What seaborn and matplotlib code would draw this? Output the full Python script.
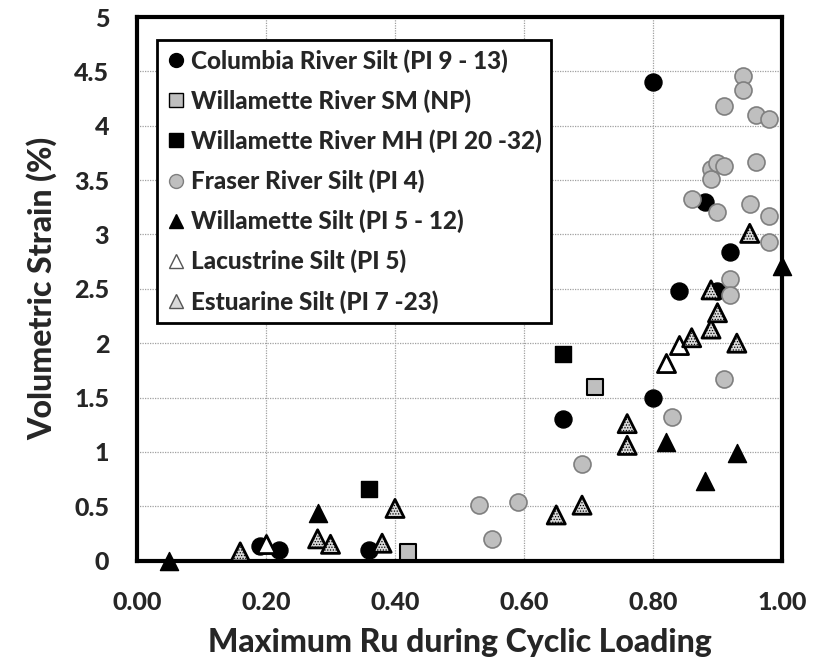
import matplotlib
matplotlib.use("Agg")
import matplotlib.pyplot as plt
import seaborn as sns
import pandas as pd
from matplotlib.lines import Line2D

sns.set_style("white")
plt.rcParams['font.family'] = ['Lato', 'DejaVu Sans']
plt.rcParams['hatch.color'] = '#7f7f7f'
plt.rcParams['hatch.linewidth'] = 0.6

# ---- data ----
columbia_x = [0.19, 0.22, 0.36, 0.66, 0.80, 0.80, 0.84, 0.88, 0.90, 0.92]
columbia_y = [0.13, 0.10, 0.10, 1.30, 1.50, 4.40, 2.48, 3.30, 2.48, 2.84]

wsm_x = [0.42, 0.71]
wsm_y = [0.08, 1.60]

wmh_x = [0.36, 0.66]
wmh_y = [0.66, 1.90]

fraser_x = [0.53, 0.55, 0.59, 0.69, 0.83, 0.86, 0.89, 0.89, 0.90, 0.90, 0.91, 0.91,
            0.91, 0.92, 0.92, 0.94, 0.94, 0.95, 0.96, 0.96, 0.98, 0.98, 0.98]
fraser_y = [0.51, 0.20, 0.54, 0.89, 1.32, 3.33, 3.60, 3.51, 3.66, 3.21, 3.63, 4.18,
            1.67, 2.59, 2.44, 4.46, 4.33, 3.28, 4.10, 3.67, 4.06, 3.17, 2.93]

wsilt_x = [0.05, 0.28, 0.82, 0.88, 0.93, 1.00]
wsilt_y = [0.00, 0.44, 1.09, 0.73, 0.99, 2.71]

lac_x = [0.20, 0.82, 0.84]
lac_y = [0.15, 1.82, 1.98]

est_x = [0.16, 0.28, 0.30, 0.38, 0.40, 0.65, 0.69, 0.76, 0.76, 0.86, 0.89, 0.89,
         0.90, 0.93, 0.95]
est_y = [0.08, 0.20, 0.15, 0.16, 0.48, 0.42, 0.51, 1.26, 1.06, 2.05, 2.13, 2.49,
         2.28, 2.00, 3.01]

labels = ["Columbia River Silt (PI 9 - 13)",
          "Willamette River SM (NP)",
          "Willamette River MH (PI 20 -32)",
          "Fraser River Silt (PI 4)",
          "Willamette Silt (PI 5 - 12)",
          "Lacustrine Silt (PI 5)",
          "Estuarine Silt (PI 7 -23)"]
xs = [columbia_x, wsm_x, wmh_x, fraser_x, wsilt_x, lac_x, est_x]
ys = [columbia_y, wsm_y, wmh_y, fraser_y, wsilt_y, lac_y, est_y]

x_ticks = [0.0, 0.2, 0.4, 0.6, 0.8, 1.0]
x_ticklabels = ["0.00", "0.20", "0.40", "0.60", "0.80", "1.00"]
y_ticks = [0, 0.5, 1, 1.5, 2, 2.5, 3, 3.5, 4, 4.5, 5]
y_ticklabels = ["0", "0.5", "1", "1.5", "2", "2.5", "3", "3.5", "4", "4.5", "5"]

styles = [
    dict(marker="o", facecolor="black", edgecolor="black", lw=1.0, s=150, hatch=None),
    dict(marker="s", facecolor="#bfbfbf", edgecolor="black", lw=1.5, s=130, hatch=None),
    dict(marker="s", facecolor="black", edgecolor="black", lw=1.0, s=130, hatch=None),
    dict(marker="o", facecolor="#bfbfbf", edgecolor="#7f7f7f", lw=1.2, s=150, hatch=None),
    dict(marker="^", facecolor="black", edgecolor="black", lw=1.0, s=170, hatch=None),
    dict(marker="^", facecolor="white", edgecolor="black", lw=2.0, s=170, hatch=None),
    dict(marker="^", facecolor="#d9d9d9", edgecolor="black", lw=2.0, s=170, hatch="......"),
]

frames = []
for lab, x, y in zip(labels, xs, ys):
    frames.append(pd.DataFrame({"x": x, "y": y, "series": lab}))
df = pd.concat(frames, ignore_index=True)

fig = plt.figure(figsize=(8.24, 6.65), dpi=100)
ax = fig.add_axes([0.1663, 0.157, 0.7827, 0.8174])

for lab, st in zip(labels, styles):
    sub = df[df["series"] == lab]
    sns.scatterplot(data=sub, x="x", y="y", ax=ax, marker=st["marker"],
                    color=st["facecolor"], edgecolor=st["edgecolor"],
                    linewidth=st["lw"], s=st["s"], legend=False, zorder=3,
                    clip_on=False)
    coll = ax.collections[-1]
    if st["hatch"]:
        coll.set_hatch(st["hatch"])

W = "black"
ax.set_xlim(0, 1.0)
ax.set_ylim(0, 5)
ax.set_xticks(x_ticks)
ax.set_xticklabels(x_ticklabels)
ax.set_yticks(y_ticks)
ax.set_yticklabels(y_ticklabels)
ax.tick_params(axis="both", labelsize=18, length=0)
ax.tick_params(axis="x", pad=22)
ax.tick_params(axis="y", pad=20)
for t in ax.get_xticklabels() + ax.get_yticklabels():
    t.set_fontweight(W)
ax.grid(True, color="#a0a0a0", linestyle=(0, (1, 1)), linewidth=0.9)
ax.set_axisbelow(True)
for sp in ax.spines.values():
    sp.set_color("black")
    sp.set_linewidth(3)

ax.set_xlabel("Maximum Ru during Cyclic Loading", fontsize=23, fontweight=W, labelpad=10)
ax.set_ylabel("Volumetric Strain (%)", fontsize=23, fontweight=W, labelpad=12)

handles = []
for lab, st in zip(labels, styles):
    h = Line2D([], [], linestyle="none", marker=st["marker"], markersize=10,
               markerfacecolor=st["facecolor"],
               markeredgecolor=st["edgecolor"] if st["marker"] != "^" or st["facecolor"] == "black" else "#555555",
               markeredgewidth=1.0, label=lab)
    handles.append(h)
leg = ax.legend(handles=handles, loc="upper left", bbox_to_anchor=(0.031, 0.958),
                frameon=True, fancybox=False, edgecolor="black", framealpha=1,
                prop={"weight": W, "size": 17.5}, handletextpad=0.2,
                handlelength=0.8, labelspacing=0.68, borderpad=0.38, borderaxespad=0)
leg.get_frame().set_linewidth(2)

fig.savefig("out.png", dpi=100)
